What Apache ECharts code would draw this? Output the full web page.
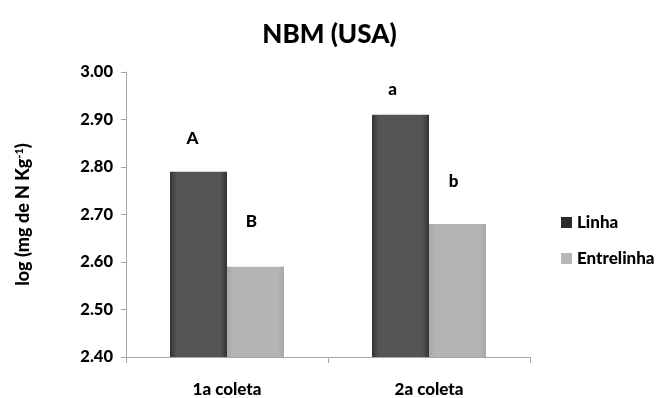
<!DOCTYPE html>
<html>
<head>
<meta charset="utf-8">
<script src="https://cdn.jsdelivr.net/npm/echarts@6/dist/echarts.min.js"></script>
<style>html,body{margin:0;padding:0;background:#fff;}#c{width:659px;height:398px;}</style>
</head>
<body>
<div id="c"></div>
<script>
var categories = ['1a coleta', '2a coleta'];
var seriesNames = ['Linha', 'Entrelinha'];
var linha = [2.79, 2.91];
var entrelinha = [2.59, 2.68];
var linhaLetters = ['A', 'a'];
var entrelinhaLetters = ['B', 'b'];
var yTicks = [2.40, 2.50, 2.60, 2.70, 2.80, 2.90, 3.00];

var FONT = 'Lato';
var W = 900;
var chart = echarts.init(document.getElementById('c'), null, {renderer: 'canvas'});

function grad(edge, mid) {
  return new echarts.graphic.LinearGradient(0, 0, 1, 0, [
    {offset: 0, color: edge}, {offset: 0.12, color: mid},
    {offset: 0.88, color: mid}, {offset: 1, color: edge}
  ]);
}

// label placement styling (kept separate from data)
var linhaLabelStyle = [{distance: 25, offset: [-6, 0]}, {distance: 17, offset: [-8, 0]}];
var entreLabelStyle = [{distance: 37, offset: [-4, 0]}, {distance: 34, offset: [-4, 0]}];

function buildData(vals, letters, styles) {
  return vals.map(function (v, i) {
    return {
      value: v,
      label: {show: true, position: 'top', formatter: letters[i],
              distance: styles[i].distance, offset: styles[i].offset}
    };
  });
}

var labelFont = {fontFamily: FONT, fontWeight: W, fontSize: 17, color: '#000'};

chart.setOption({
  animation: false,
  title: {
    text: 'NBM (USA)', left: 'center', top: 17,
    textStyle: {fontFamily: FONT, fontWeight: W, fontSize: 26, color: '#000'}
  },
  legend: {
    orient: 'vertical', left: 556, top: 209,
    itemWidth: 11, itemHeight: 11, itemGap: 19,
    icon: 'rect',
    data: [
      {name: seriesNames[0], itemStyle: {color: '#2b2b2b'}},
      {name: seriesNames[1], itemStyle: {color: '#b7b7b7'}}
    ],
    textStyle: {fontFamily: FONT, fontWeight: W, fontSize: 17, color: '#000'}
  },
  grid: {left: 126, right: 129, top: 72, bottom: 38},
  xAxis: {
    type: 'category', data: categories,
    axisLine: {lineStyle: {color: '#a6a6a6'}},
    axisTick: {show: true, length: 6, lineStyle: {color: '#a6a6a6'}},
    axisLabel: {fontFamily: FONT, fontWeight: W, fontSize: 17, color: '#000', margin: 24}
  },
  yAxis: {
    type: 'value', min: 2.4, max: 3.0, interval: 0.1,
    name: '{n|log (mg de N Kg}{s|-1}{n|)}',
    nameLocation: 'middle', nameGap: 94, nameRotate: 90,
    nameTextStyle: {
      rich: {
        n: {fontFamily: FONT, fontWeight: W, fontSize: 18, color: '#000'},
        s: {fontFamily: FONT, fontWeight: W, fontSize: 11, color: '#000', verticalAlign: 'top', padding: [0, 0, 7, 0]}
      }
    },
    axisLine: {show: true, lineStyle: {color: '#a6a6a6'}},
    axisTick: {show: true, length: 5, lineStyle: {color: '#a6a6a6'}},
    splitLine: {show: false},
    axisLabel: {
      fontFamily: FONT, fontWeight: W, fontSize: 16.5, color: '#000', margin: 13,
      formatter: function (v) { return v.toFixed(2); }
    }
  },
  series: [
    {
      name: seriesNames[0], type: 'bar', barWidth: 57, barGap: '0%',
      itemStyle: {color: grad('#333333', '#555555')},
      label: labelFont,
      data: buildData(linha, linhaLetters, linhaLabelStyle)
    },
    {
      name: seriesNames[1], type: 'bar', barWidth: 57, barGap: '0%',
      itemStyle: {color: grad('#a8a8a8', '#b4b4b4')},
      label: labelFont,
      data: buildData(entrelinha, entrelinhaLetters, entreLabelStyle)
    }
  ]
});
</script>
</body>
</html>
